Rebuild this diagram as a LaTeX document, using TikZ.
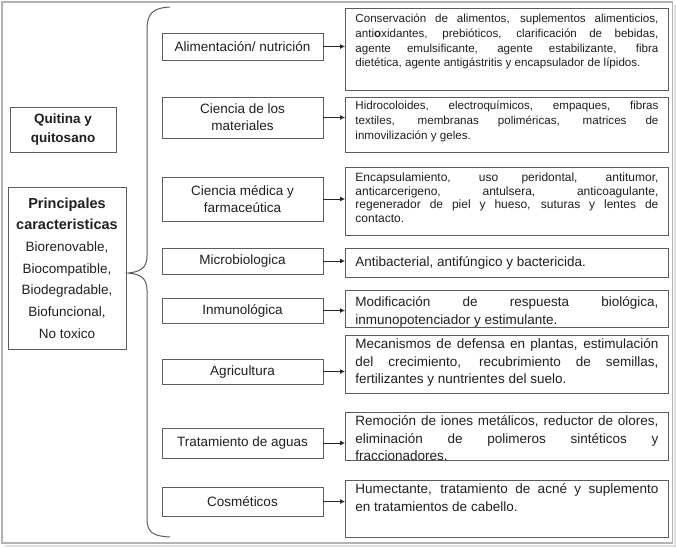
\documentclass[tikz,border=0pt]{standalone}
\usepackage{fontspec}
\setmainfont{Liberation Sans}
\usetikzlibrary{arrows.meta}
\tolerance=10000
\hbadness=10000
\hfuzz=20pt
\hyphenpenalty=10000
\exhyphenpenalty=10000
\definecolor{boxc}{gray}{0.36}
\definecolor{txtc}{gray}{0.12}
\newcommand\fa{\fontsize{11.6}{14.8}\selectfont}
\newcommand\fac{\fontsize{12}{13.6}\selectfont}
\newcommand\fb{\fontsize{13.5}{17.3}\selectfont}
\newcommand\rtext[4]{\parbox[c][#1][t]{303pt}{#2\noindent\rule{0pt}{#3}#4}}
\tikzset{
  boxline/.style={draw=boxc, line width=0.9pt},
  catbox/.style={boxline, minimum width=161pt, align=center, inner sep=1pt,
    font=\fontsize{13.5}{17}\selectfont, text=txtc},
  rbox/.style={boxline, anchor=north west, inner xsep=10pt, inner ysep=0pt, text=txtc},
  leftbox/.style={boxline, align=center, inner sep=1pt, text=txtc},
  arr/.style={draw=black!85, line width=0.8pt, -{Latex[length=5pt,width=5pt]}},
}
\begin{document}
\begin{tikzpicture}[x=1pt,y=-1pt]
\useasboundingbox (0,0) rectangle (676,547);
% outer frame with light shadow
\draw[gray!25, line width=2pt] (5,545.5) -- (675,545.5) -- (675,5);
\draw[gray!60, line width=1.8pt] (2,2) rectangle (672.5,543);

% left boxes
\node[leftbox, minimum width=106pt, minimum height=45pt,
      font=\bfseries\fontsize{13.5}{18.5}\selectfont] (q) at (63,129.5) {Quitina y\\quitosano};
\node[leftbox, minimum width=118pt, minimum height=162pt,
      font=\fontsize{13.5}{21.7}\selectfont] (p) at (67,268)
  {{\bfseries\fontsize{14.5}{21.7}\selectfont Principales}\\
   {\bfseries\fontsize{14.5}{21.7}\selectfont caracteristicas}\\
   Biorenovable,\\Biocompatible,\\Biodegradable,\\Biofuncional,\\No toxico};

% brace
\coordinate (bt) at (170,7);
\coordinate (bm) at (128,273);
\coordinate (bb) at (170,537);
\draw[draw=boxc, line width=1pt]
  (bt) .. controls (152,8) and (147,14) .. (147,30) -- (147,256)
  .. controls (147,268) and (140,272) .. (bm)
  .. controls (140,274) and (147,278) .. (147,290) -- (147,518)
  .. controls (147,532) and (152,536) .. (bb);

% category boxes
\node[catbox, minimum height=27pt] (c1) at (242.5,46.5) {Alimentación/ nutrición};
\node[catbox, minimum height=41pt] (c2) at (242.5,117.5) {Ciencia de los\\materiales};
\node[catbox, minimum height=44pt] (c3) at (242.5,199) {Ciencia médica y\\farmaceútica};
\node[catbox, minimum height=26pt] (c4) at (242.5,261) {Microbiologica};
\node[catbox, minimum height=25pt] (c5) at (242.5,310.5) {Inmunológica};
\node[catbox, minimum height=25pt] (c6) at (242.5,371.5) {Agricultura};
\node[catbox, minimum height=30pt] (c7) at (242.5,443) {Tratamiento de aguas};
\node[catbox, minimum height=29pt] (c8) at (242.5,501.5) {Cosméticos};

% right boxes
\node[rbox] (r1) at (345,8) {\rtext{82pt}{\fa}{14pt}{Conservación de alimentos, suplementos alimenticios,\linebreak
anti\textbf{o}xidantes, prebióticos, clarificación de bebidas,\linebreak
agente emulsificante, agente estabilizante, fibra\linebreak
dietética, agente antigástritis y encapsulador de lípidos.}};
\node[rbox] (r2) at (345,97) {\rtext{55pt}{\fa}{12pt}{Hidrocoloides, electroquímicos, empaques, fibras\linebreak
textiles, membranas poliméricas, matrices de\linebreak
inmovilización y geles.}};
\node[rbox] (r3) at (345,167) {\rtext{68pt}{\fac}{14pt}{Encapsulamiento, uso peridontal, antitumor,\linebreak
anticarcerigeno, antulsera, anticoagulante,\linebreak
regenerador de piel y hueso, suturas y lentes de\linebreak
contacto.}};
\node[rbox] (r4) at (345,248) {\rtext{29pt}{\fb}{18pt}{Antibacterial, antifúngico y bactericida.}};
\node[rbox] (r5) at (345,290) {\rtext{37pt}{\fb}{16.5pt}{Modificación de respuesta biológica,\linebreak
inmunopotenciador y estimulante.}};
\node[rbox] (r6) at (345,335) {\rtext{58pt}{\fb}{13.5pt}{Mecanismos de defensa en plantas, estimulación\linebreak
del crecimiento, recubrimiento de semillas,\linebreak
fertilizantes y nuntrientes del suelo.}};
\node[rbox] (r7) at (345,412) {\rtext{48pt}{\fb}{13.5pt}{Remoción de iones metálicos, reductor de olores,\linebreak
eliminación de polimeros sintéticos y\linebreak
fraccionadores.}};
\node[rbox] (r8) at (345,480) {\rtext{57pt}{\fb}{13.5pt}{Humectante, tratamiento de acné y suplemento\linebreak
en tratamientos de cabello.}};

% arrows
\foreach \i in {1,...,8}{
  \draw[arr] (c\i.east) -- (c\i.east -| r\i.west);
}
\end{tikzpicture}
\end{document}
